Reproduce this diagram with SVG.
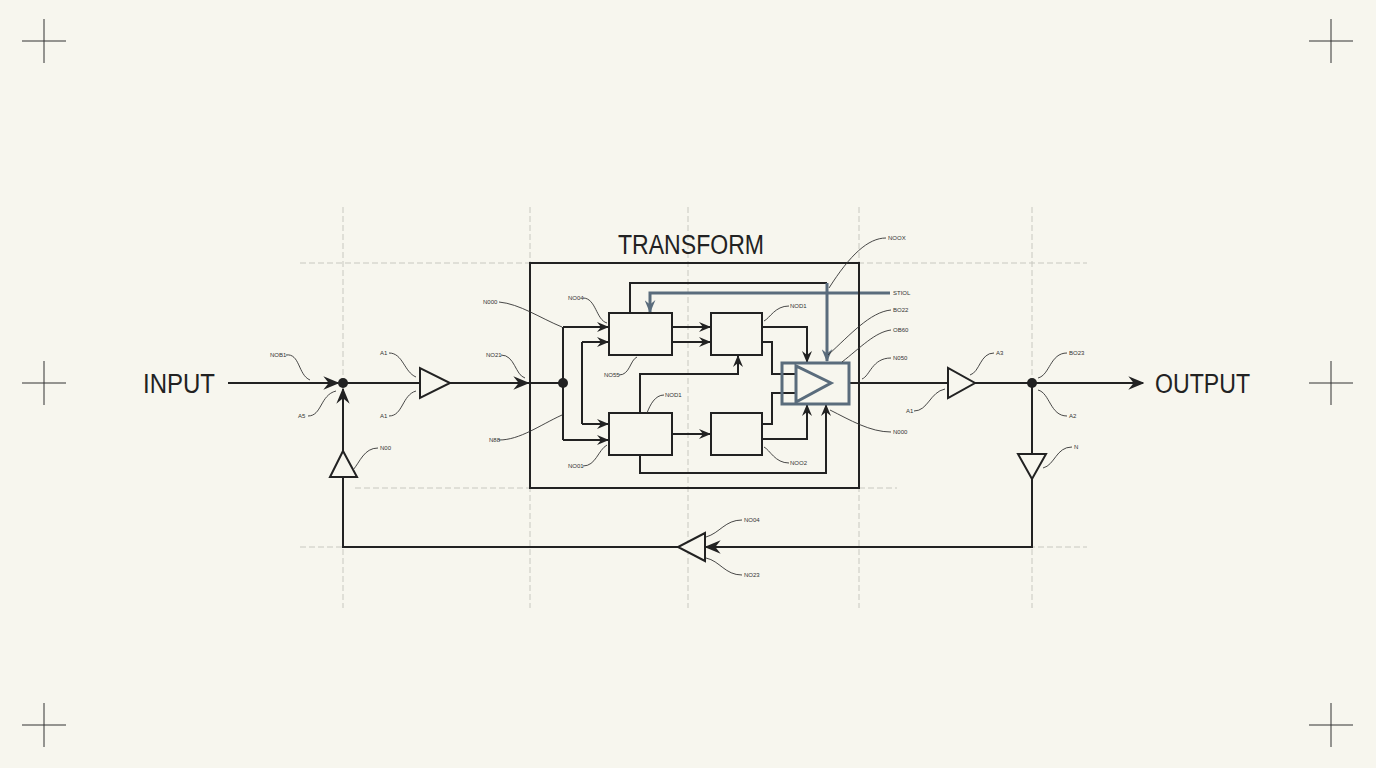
<svg xmlns="http://www.w3.org/2000/svg" width="1376" height="768" viewBox="0 0 1376 768">
<defs>
<marker id="ar" viewBox="0 0 12 10" refX="11" refY="5" markerWidth="12" markerHeight="10" markerUnits="userSpaceOnUse" orient="auto"><path d="M0,0 L12,5 L0,10 L4,5 Z" fill="#222"/></marker>
<marker id="arb" viewBox="0 0 12 10" refX="11" refY="5" markerWidth="13" markerHeight="11" markerUnits="userSpaceOnUse" orient="auto"><path d="M0,0 L12,5 L0,10 L4,5 Z" fill="#5a6c7c"/></marker>
<marker id="arL" viewBox="0 0 12 10" refX="11" refY="5" markerWidth="16" markerHeight="14" markerUnits="userSpaceOnUse" orient="auto"><path d="M0,0 L12,5 L0,10 L4,5 Z" fill="#222"/></marker>
</defs>
<style>
.w{stroke:#222;stroke-width:2;fill:none}
.b{stroke:#5a6c7c;stroke-width:3;fill:none}
.tri{stroke:#222;stroke-width:2;fill:#f7f6ee}
.g{stroke:#c8c8c0;stroke-width:1;stroke-dasharray:6 3;fill:none}
.ch{stroke:#333;stroke-width:1}
.ld{stroke:#333;stroke-width:0.9;fill:none}
.s{font-family:"Liberation Sans",Arial,sans-serif;font-size:6px;fill:#333}
.big{font-family:"Liberation Sans",Arial,sans-serif;font-size:27px;fill:#222}
</style>
<rect width="1376" height="768" fill="#f7f6ee"/>
<g id="grid">
<path class="g" d="M343,207V608M530,207V608M688,207V608M859,207V608M1032,207V608M300,263H1087M355,488H897M300,547H1087"/>
</g>
<g id="crosshairs">
<path class="ch" d="M22,41H66M44,19V63M1309,41H1353M1331,19V63M22,383H66M44,361V405M1309,383H1353M1331,361V405M22,725H66M44,703V747M1309,725H1353M1331,703V747"/>
</g>
<g id="connectors">
<path class="w" d="M228,383H338" marker-end="url(#arL)"/>
<path class="w" d="M343,383H420"/>
<path class="w" d="M450,383H528" marker-end="url(#arL)"/>
<path class="w" d="M528,383H563"/>
<path class="w" d="M563,327V440"/>
<path class="w" d="M563,327H608" marker-end="url(#ar)"/>
<path class="w" d="M563,440H608" marker-end="url(#ar)"/>
<path class="w" d="M582,342V424"/>
<path class="w" d="M582,342H608" marker-end="url(#ar)"/>
<path class="w" d="M582,424H608" marker-end="url(#ar)"/>
<path class="w" d="M672,327H710" marker-end="url(#ar)"/>
<path class="w" d="M672,342H710" marker-end="url(#ar)"/>
<path class="w" d="M672,434H710" marker-end="url(#ar)"/>
<path class="w" d="M640,413V374H738V356" marker-end="url(#ar)"/>
<path class="w" d="M630,313V283H827"/>
<path class="b" d="M827,283V361" marker-end="url(#arb)"/>
<path class="b" d="M890,293H650V312" marker-end="url(#arb)"/>
<path class="w" d="M762,327H807V362" marker-end="url(#ar)"/>
<path class="w" d="M762,342H772V374H796"/>
<path class="w" d="M762,424H772V393H796"/>
<path class="w" d="M762,439H807V405" marker-end="url(#ar)"/>
<path class="w" d="M640,455V473H826V405" marker-end="url(#ar)"/>
<path class="w" d="M849,383H948"/>
<path class="w" d="M975,383H1143" marker-end="url(#arL)"/>
<path class="w" d="M1032,383V454"/>
<path class="w" d="M1032,479V547H706" marker-end="url(#arL)"/>
<path class="w" d="M678,547H343V477"/>
<path class="w" d="M343,451V389" marker-end="url(#arL)"/>
</g>
<g id="transform">
<rect x="530" y="263" width="329" height="225" class="w"/>
<text x="618" y="254" class="big" textLength="146" lengthAdjust="spacingAndGlyphs">TRANSFORM</text>
</g>
<g id="b1"><rect x="609" y="313" width="63" height="42" class="w"/></g>
<g id="b2"><rect x="711" y="313" width="51" height="42" class="w"/></g>
<g id="b3"><rect x="609" y="413" width="63" height="42" class="w"/></g>
<g id="b4"><rect x="711" y="413" width="51" height="42" class="w"/></g>
<g id="amp">
<rect x="782" y="363" width="67" height="41" class="b" stroke-width="2.5"/>
<path d="M796,366V402L831,383Z" class="b" stroke-width="2" fill="none"/>
</g>
<g id="buf1"><path class="tri" d="M420,368V398L450,383Z"/></g>
<g id="buf2"><path class="tri" d="M948,368V398L975,383Z"/></g>
<g id="buf3"><path class="tri" d="M1018,454H1046L1032,479Z"/></g>
<g id="buf4"><path class="tri" d="M705,533V561L678,547Z"/></g>
<g id="buf5"><path class="tri" d="M330,477H357L343,451Z"/></g>
<g id="dots">
<circle cx="343" cy="383" r="5" fill="#222"/>
<circle cx="563" cy="383" r="5" fill="#222"/>
<circle cx="1032" cy="383" r="5" fill="#222"/>
</g>
<g id="io">
<text x="143" y="393" class="big" textLength="72" lengthAdjust="spacingAndGlyphs">INPUT</text>
<text x="1155" y="393" class="big" textLength="95" lengthAdjust="spacingAndGlyphs">OUTPUT</text>
</g>
<g id="labels">
<text x="270" y="357" class="s">NOB1</text><path class="ld" d="M286,355C300,353 298,375 310,380"/>
<text x="298" y="418" class="s">A5</text><path class="ld" d="M308,416C322,416 320,395 336,391"/>
<text x="380" y="355" class="s">A1</text><path class="ld" d="M389,353C403,353 404,372 416,377"/>
<text x="380" y="418" class="s">A1</text><path class="ld" d="M389,416C403,416 402,395 416,391"/>
<text x="380" y="450" class="s">N00</text><path class="ld" d="M378,448C364,448 360,462 353,470"/>
<text x="483" y="304" class="s">N000</text><path class="ld" d="M499,302C520,304 540,318 562,327"/>
<text x="486" y="357" class="s">NO21</text><path class="ld" d="M501,355C515,355 515,375 525,378"/>
<text x="489" y="442" class="s">N88</text><path class="ld" d="M499,440C520,440 540,425 562,415"/>
<text x="568" y="300" class="s">NO04</text><path class="ld" d="M583,298C596,298 596,320 607,323"/>
<text x="604" y="377" class="s">NO55</text><path class="ld" d="M619,375C630,375 630,360 637,357"/>
<text x="665" y="397" class="s">NOD1</text><path class="ld" d="M664,395C655,395 650,405 647,413"/>
<text x="568" y="468" class="s">NO01</text><path class="ld" d="M583,466C596,466 598,450 607,445"/>
<text x="790" y="308" class="s">NOD1</text><path class="ld" d="M789,306C775,306 770,318 764,321"/>
<text x="790" y="465" class="s">NOO2</text><path class="ld" d="M789,463C775,463 770,450 764,447"/>
<text x="888" y="240" class="s">NOOX</text><path class="ld" d="M886,238C868,238 850,255 829,288"/>
<text x="893" y="295" class="s">STIOL</text>
<text x="893" y="312" class="s">BO22</text><path class="ld" d="M891,310C870,312 850,335 828,355"/>
<text x="893" y="332" class="s">OB60</text><path class="ld" d="M891,330C875,332 860,348 842,362"/>
<text x="893" y="360" class="s">N050</text><path class="ld" d="M891,358C872,358 870,376 862,379"/>
<text x="893" y="434" class="s">N000</text><path class="ld" d="M891,432C870,432 850,420 830,410"/>
<text x="996" y="355" class="s">A3</text><path class="ld" d="M994,353C980,353 980,372 970,375"/>
<text x="906" y="413" class="s">A1</text><path class="ld" d="M914,411C928,411 930,392 945,389"/>
<text x="1069" y="355" class="s">BO23</text><path class="ld" d="M1067,353C1050,353 1050,375 1038,378"/>
<text x="1069" y="418" class="s">A2</text><path class="ld" d="M1067,416C1050,416 1050,393 1038,390"/>
<text x="1074" y="449" class="s">N</text><path class="ld" d="M1072,447C1056,447 1055,465 1043,468"/>
<text x="744" y="522" class="s">NO04</text><path class="ld" d="M742,520C725,520 720,533 706,537"/>
<text x="744" y="577" class="s">NO23</text><path class="ld" d="M742,575C725,575 720,561 706,558"/>
</g>
</svg>
